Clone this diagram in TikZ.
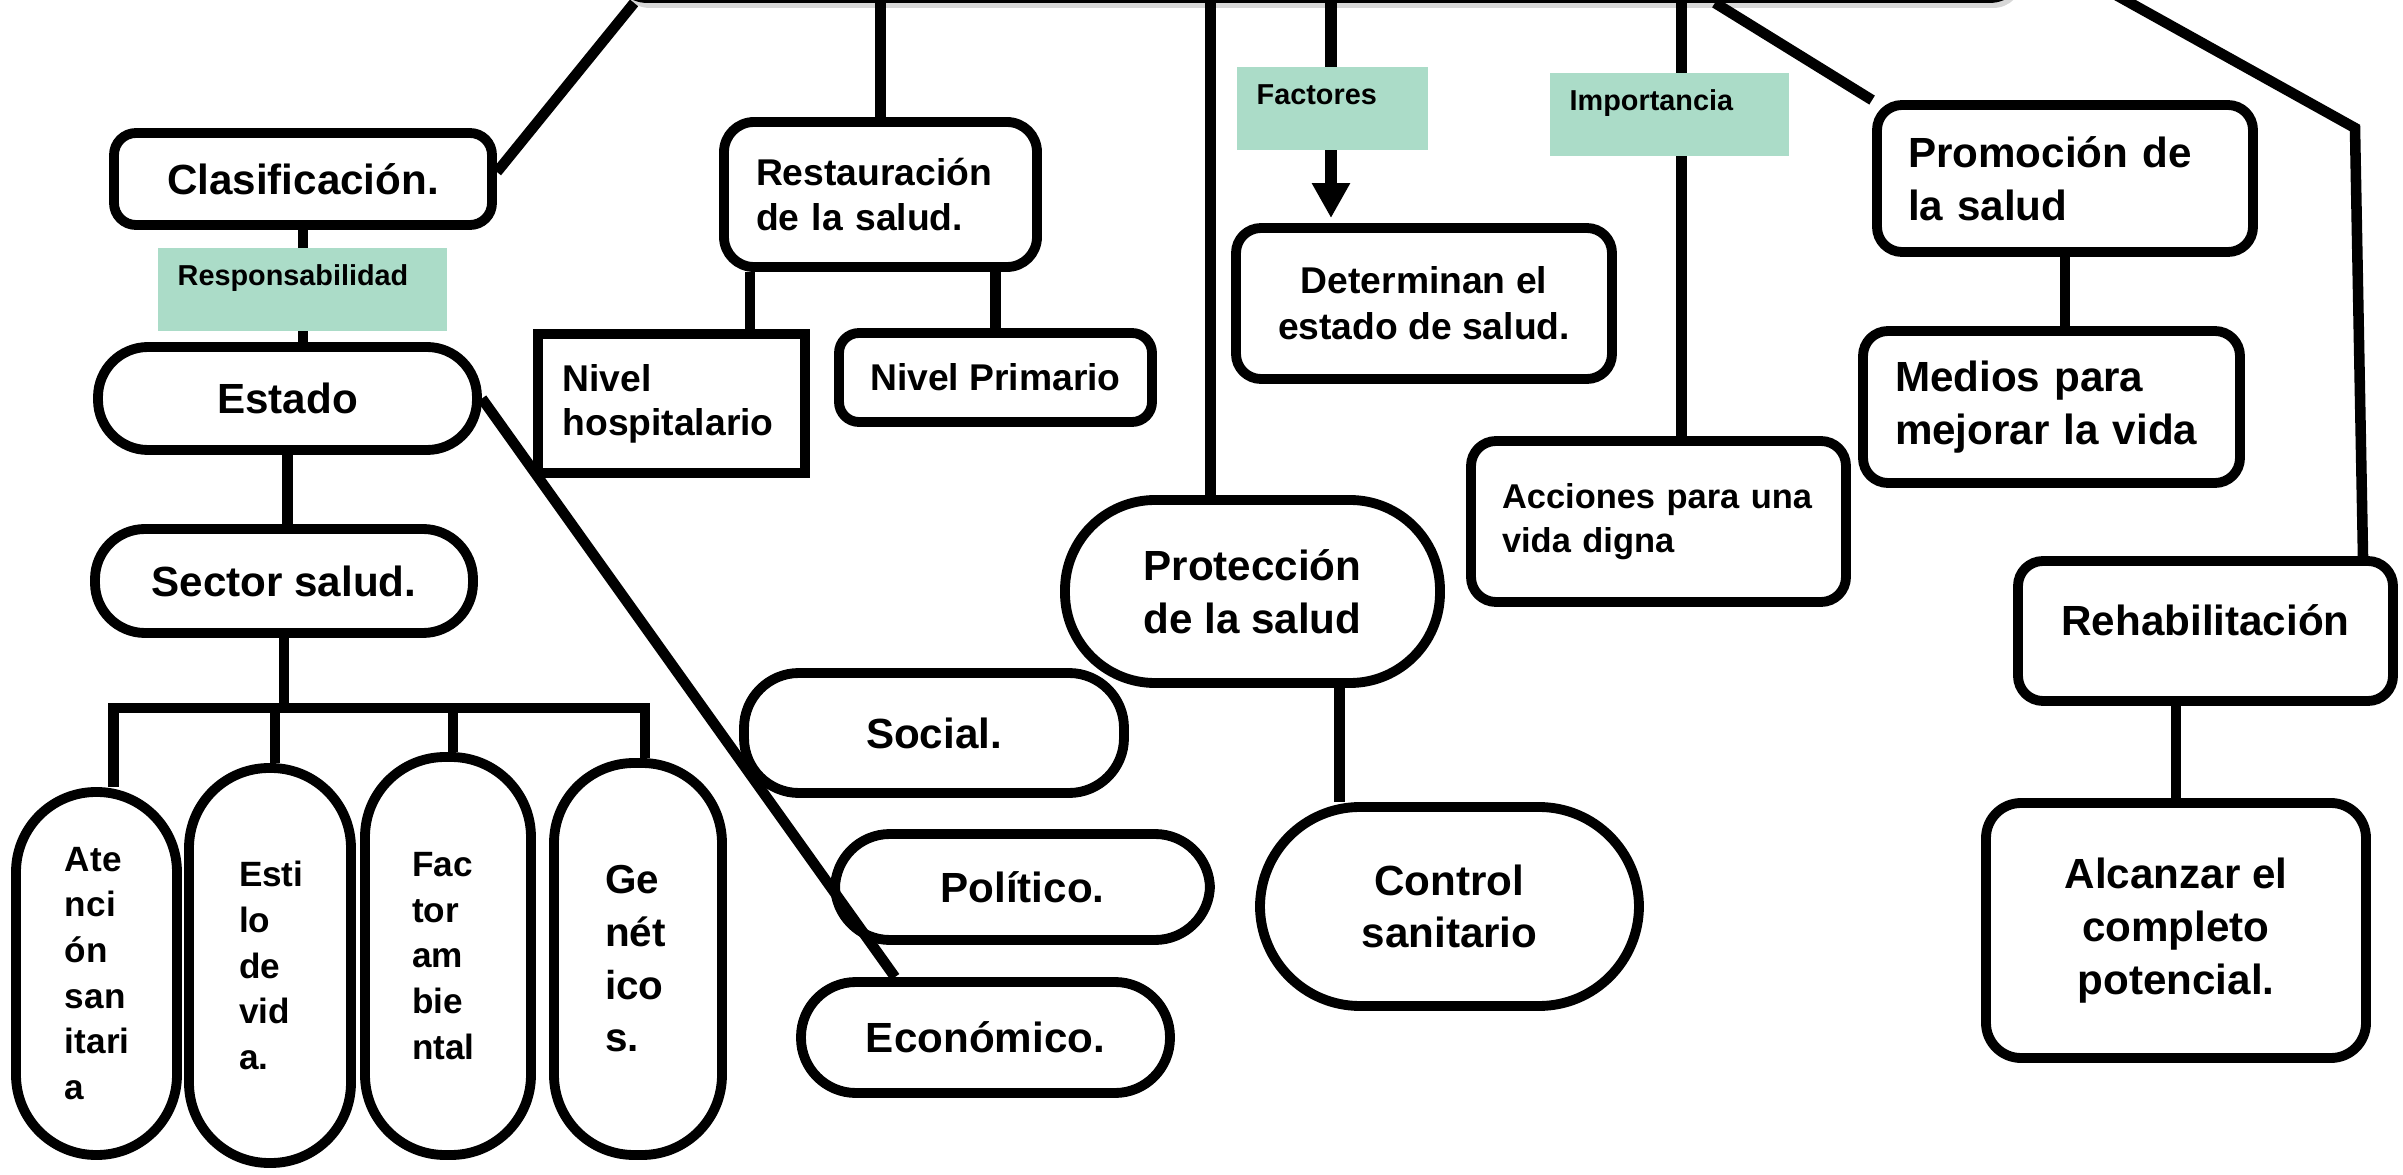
\documentclass[tikz,border=0pt]{standalone}
\usepackage{fontspec}
\setmainfont{Liberation Sans}
\usepackage{tikz}
\usetikzlibrary{arrows.meta,%
                shadows}
\definecolor{mint}{HTML}{ABDCC8}

\begin{document}
\begin{tikzpicture}[scale = 1.0, transform shape]
    \useasboundingbox (0,0) rectangle (24.03,-11.75);
    \clip (0,0) rectangle (24.03,-11.75);
    \tikzstyle{box}=[draw, fill=white, line width=2.8pt, rounded corners=0.25cm, inner sep=0pt, align=center, font=\bfseries\fontsize{12}{15}\selectfont]
    \tikzstyle{small}=[font=\bfseries\fontsize{10.6}{13}\selectfont]
    \tikzstyle{tall}=[box, rounded corners=0.8cm, align=left, font=\bfseries\fontsize{10}{13}\selectfont]
    \tikzstyle{tag}=[fill=mint, anchor=north west, inner xsep=0.2cm, inner ysep=0.17cm, text height=0.21cm, text depth=0.28cm, align=left, font=\bfseries\fontsize{8.2}{10}\selectfont]
    \tikzstyle{link}=[line width=3pt]
    \node[box, rounded corners=0.3cm, minimum width=14.03cm, minimum height=1cm, drop shadow={fill=black!45, opacity=0.35, shadow xshift=0.03cm, shadow yshift=-0.1cm}] (top) at (13.185,0.52) {};
    \coordinate (bar) at (0,-7.08);
    \coordinate (rtop) at (20.89,0.2);
    \coordinate (rbend) at (23.55,-1.28);
    \node[box, rounded corners=0.22cm, minimum width=3.78cm, minimum height=0.92cm] (clas) at (3.03,-1.79) {Clasificación.};
    \node[box, rounded corners=0.5cm, minimum width=3.79cm, minimum height=1.03cm] (estado) at (2.875,-3.985) {Estado};
    \node[box, rounded corners=0.5cm, minimum width=3.78cm, minimum height=1.04cm] (sector) at (2.84,-5.81) {Sector salud.};
    \node[tall, minimum width=1.61cm, minimum height=3.63cm, text width=0.63cm] (aten) at (0.965,-9.735) {Ate\\nci\\ón\\san\\itari\\a};
    \node[tall, minimum width=1.62cm, minimum height=3.95cm, text width=0.62cm] (estilo) at (2.70,-9.655) {Esti\\lo\\de\\vid\\a.};
    \node[tall, minimum width=1.66cm, minimum height=3.98cm, text width=0.72cm] (factor) at (4.48,-9.56) {Fac\\tor\\am\\bie\\ntal};
    \node[tall, minimum width=1.68cm, minimum height=3.92cm, text width=0.66cm, font=\bfseries\fontsize{11.5}{15}\selectfont] (genet) at (6.38,-9.59) {Ge\\nét\\ico\\s.};
    \node[box, rounded corners=0.55cm, minimum width=3.80cm, minimum height=1.20cm] (social) at (9.34,-7.33) {Social.};
    \node[box, rounded corners=0.55cm, minimum width=3.75cm, minimum height=1.06cm] (polit) at (10.225,-8.87) {Político.};
    \node[box, rounded corners=0.55cm, minimum width=3.69cm, minimum height=1.11cm] (econ) at (9.855,-10.375) {Económico.};
    \node[box, small, rounded corners=0.3cm, minimum width=3.13cm, minimum height=1.45cm, align=left, text width=2.49cm] (rest) at (8.805,-1.945) {Restauración\\de la salud.};
    \node[box, sharp corners, minimum width=2.67cm, minimum height=1.39cm, align=left, text width=2.18cm, font=\bfseries\fontsize{10.6}{12.5}\selectfont] (hosp) at (6.715,-4.035) {Nivel\\hospitalario};
    \node[box, small, rounded corners=0.2cm, minimum width=3.13cm, minimum height=0.89cm] (prim) at (9.955,-3.775) {Nivel Primario};
    \node[box, rounded corners=0.9cm, minimum width=3.75cm, minimum height=1.83cm] (prot) at (12.525,-5.915) {Protección\\de la salud};
    \node[box, rounded corners=1.0cm, minimum width=3.79cm, minimum height=1.99cm] (ctrl) at (14.495,-9.065) {Control\\sanitario};
    \node[box, small, minimum width=3.76cm, minimum height=1.51cm] (det) at (14.24,-3.035) {Determinan el\\estado de salud.};
    \node[box, minimum width=3.75cm, minimum height=1.61cm, align=left, text width=3.13cm, font=\bfseries\fontsize{9.8}{12.5}\selectfont] (acc) at (16.585,-5.215) {Acciones para una\\vida digna};
    \node[box, minimum width=3.76cm, minimum height=1.47cm, align=left, text width=3.14cm] (prom) at (20.65,-1.785) {Promoción de\\la salud};
    \node[box, minimum width=3.77cm, minimum height=1.52cm, align=left, text width=3.13cm] (medios) at (20.515,-4.07) {Medios para\\mejorar la vida};
    \node[box, minimum width=3.75cm, minimum height=1.40cm, text depth=0.22cm] (reh) at (22.055,-6.31) {Rehabilitación};
    \node[box, rounded corners=0.35cm, minimum width=3.80cm, minimum height=2.55cm] (alc) at (21.76,-9.305) {Alcanzar el\\completo\\potencial.};
    \draw[link] ([xshift=0.22cm]top.south west) -- ([yshift=0.07cm]clas.east);
    \draw[link] (rest.north) -- (rest.north |- top.south);
    \draw[link] ([xshift=-0.42cm]prot.north) -- ([xshift=-0.42cm]prot.north |- top.south);
    \draw[line width=3.4pt, -{Triangle[length=0.35cm, width=0.36cm]}] ([xshift=-0.93cm]det.north |- top.south) -- ([xshift=-0.93cm, yshift=0.05cm]det.north);
    \draw[link] ([xshift=0.23cm]acc.north) -- ([xshift=0.23cm]acc.north |- top.south);
    \draw[link] ([xshift=-3.10cm]top.south east) -- (prom.north west);
    \draw[link] (rtop) -- (rbend) -- ([xshift=1.575cm]reh.north);
    \draw[link] (clas.south) -- (clas.south |- estado.north);
    \draw[link] (estado.south) -- (estado.south |- sector.north);
    \draw[link] (sector.south) -- (sector.south |- bar);
    \draw[link, line cap=rect] ([xshift=0.17cm]aten.north |- bar) -- ([xshift=0.07cm]genet.north |- bar);
    \draw[link] ([xshift=0.17cm]aten.north) -- ([xshift=0.17cm]aten.north |- bar);
    \draw[link] ([xshift=0.05cm]estilo.north) -- ([xshift=0.05cm]estilo.north |- bar);
    \draw[link] ([xshift=0.05cm]factor.north) -- ([xshift=0.05cm]factor.north |- bar);
    \draw[link] ([xshift=0.07cm]genet.north) -- ([xshift=0.07cm]genet.north |- bar);
    \draw[link] (estado.east) -- ([xshift=-0.905cm]econ.north);
    \draw[link] ([xshift=0.785cm]hosp.north) -- ([xshift=0.785cm]hosp.north |- rest.south);
    \draw[link] (prim.north) -- (prim.north |- rest.south);
    \draw[link] ([xshift=0.87cm]prot.south) -- ([xshift=0.87cm]prot.south |- ctrl.north);
    \draw[link] (prom.south) -- (prom.south |- medios.north);
    \draw[link] (alc.north) -- (alc.north |- reh.south);
    \node[tag, text width=2.49cm] (resp) at (1.57,-2.47) {Responsabilidad};
    \node[tag, text width=1.51cm] (fact) at (12.36,-0.66) {Factores};
    \node[tag, text width=1.99cm] (imp) at (15.49,-0.72) {Importancia};
\end{tikzpicture}
\end{document}
